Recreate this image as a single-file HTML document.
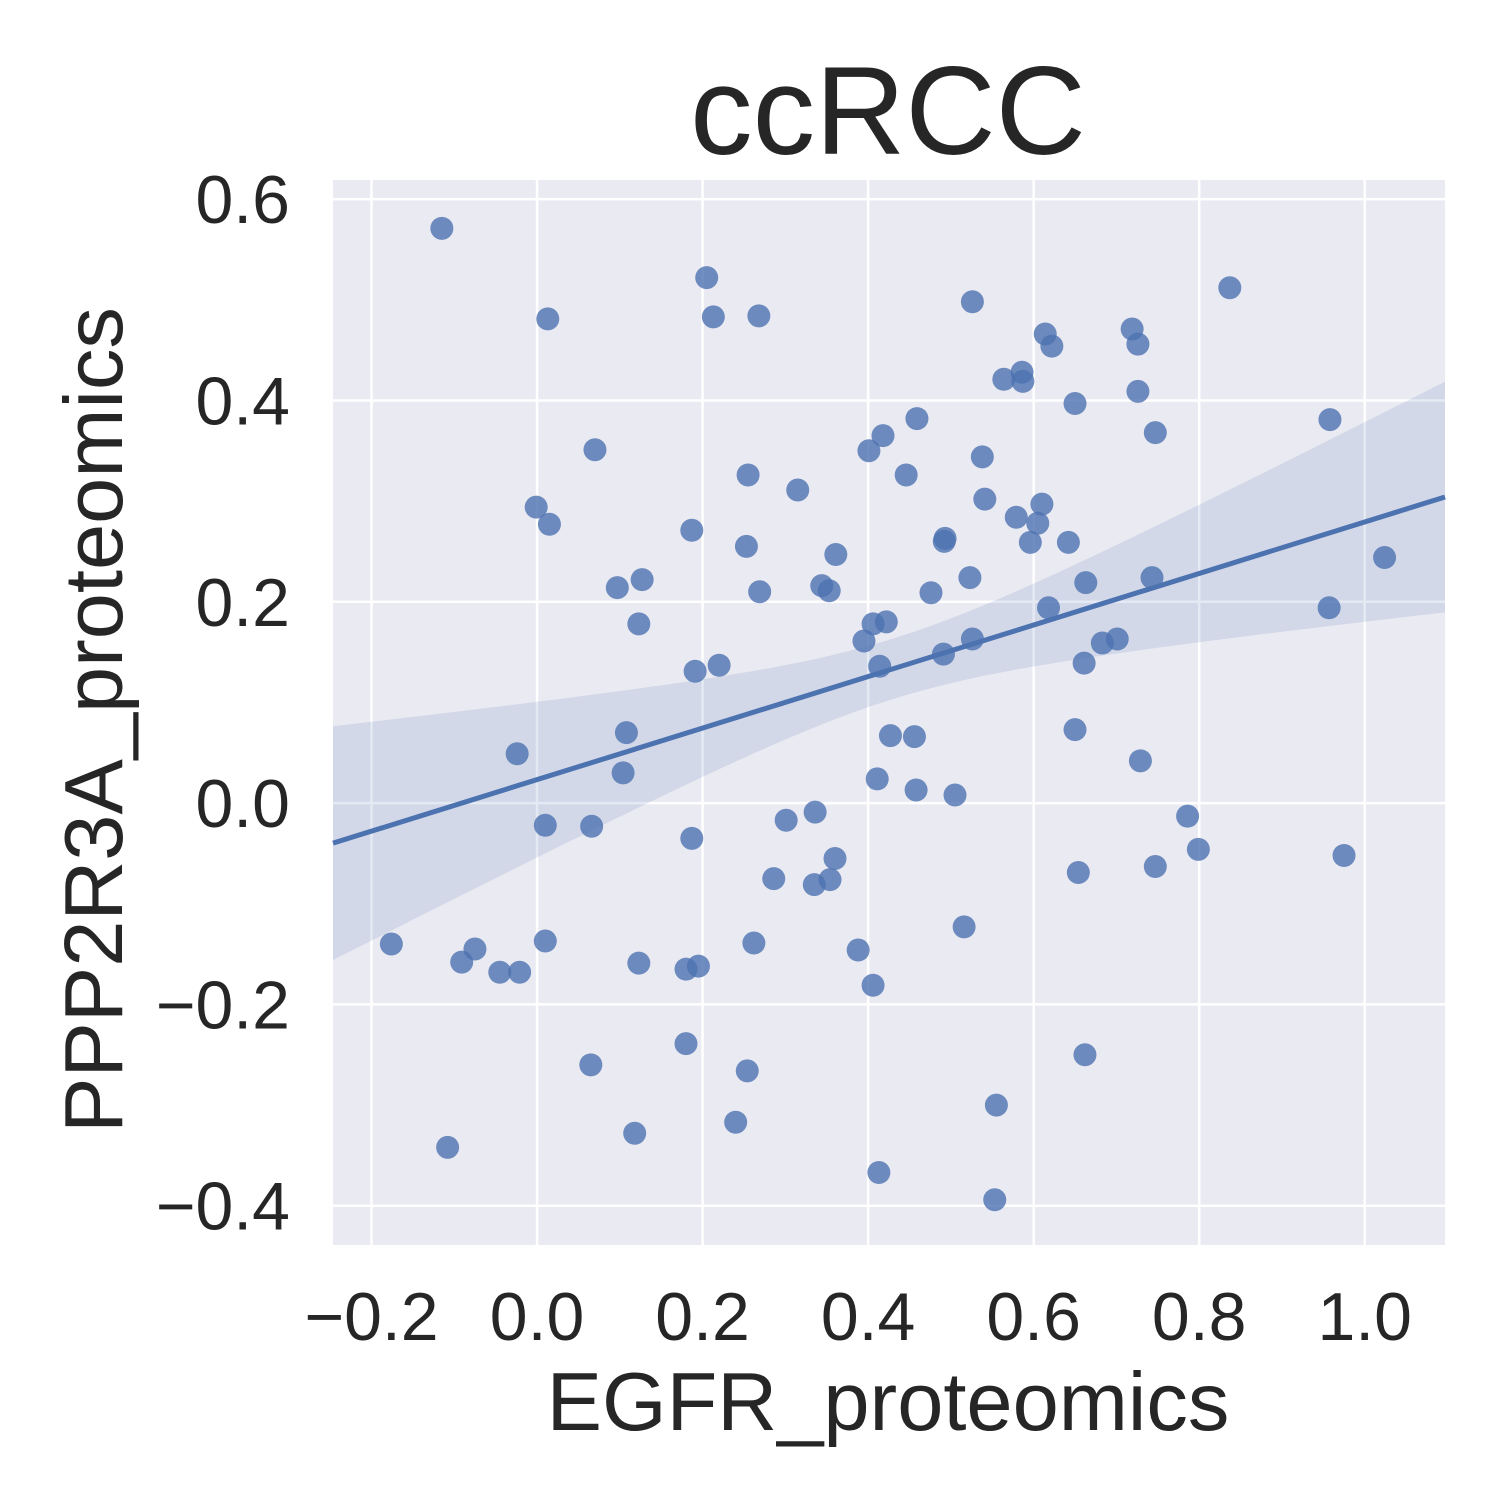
<!DOCTYPE html>
<html><head><meta charset="utf-8"><style>
html,body{margin:0;padding:0;background:#fff;}
svg text{font-family:"Liberation Sans","DejaVu Sans",sans-serif;fill:#262626;}
</style></head><body>
<svg id="chart" width="1500" height="1500" viewBox="0 0 1500 1500" xmlns="http://www.w3.org/2000/svg">
<text x="888" y="154" font-size="125" text-anchor="middle">ccRCC</text>
<text x="888" y="1430" font-size="83" text-anchor="middle">EGFR_proteomics</text>
<text x="0" y="0" font-size="83" text-anchor="middle" transform="translate(122,720) rotate(-90)">PPP2R3A_proteomics</text>
<g id="plot"></g>
</svg>
<script>
const xVals=[-0.115,0.205,0.013,0.213,0.268,0.837,0.526,0.614,0.719,0.622,0.726,0.564,0.586,0.587,0.650,0.726,0.459,0.418,0.401,0.747,0.958,0.070,0.255,0.446,0.538,0.315,0.541,-0.001,0.015,0.610,0.579,0.605,0.492,0.493,0.596,0.642,0.187,0.253,0.361,0.097,0.127,0.269,0.344,0.353,0.476,0.523,0.663,0.743,1.024,0.123,0.406,0.422,0.618,0.957,0.395,0.526,0.491,0.683,0.701,0.191,0.220,0.414,0.661,0.108,0.427,0.456,0.650,-0.024,0.104,0.411,0.729,0.458,0.505,0.010,0.066,0.187,0.301,0.336,0.786,0.799,0.975,0.360,0.286,0.335,0.354,0.654,0.747,-0.176,-0.075,-0.091,0.010,-0.045,-0.021,0.123,0.180,0.195,0.262,0.388,0.516,0.406,0.065,0.180,0.254,0.662,0.118,0.240,0.555,-0.108,0.413,0.553];
const yVals=[0.571,0.522,0.481,0.483,0.484,0.512,0.498,0.466,0.471,0.454,0.456,0.421,0.428,0.419,0.397,0.409,0.382,0.365,0.350,0.368,0.381,0.351,0.326,0.326,0.344,0.311,0.302,0.294,0.277,0.297,0.284,0.278,0.260,0.263,0.259,0.259,0.271,0.255,0.247,0.214,0.222,0.210,0.216,0.211,0.209,0.224,0.219,0.224,0.244,0.178,0.178,0.180,0.194,0.194,0.161,0.163,0.148,0.159,0.163,0.131,0.137,0.136,0.139,0.070,0.067,0.066,0.073,0.049,0.030,0.024,0.042,0.013,0.008,-0.022,-0.023,-0.035,-0.017,-0.009,-0.013,-0.046,-0.052,-0.055,-0.075,-0.081,-0.076,-0.069,-0.063,-0.140,-0.145,-0.158,-0.137,-0.168,-0.168,-0.159,-0.165,-0.162,-0.139,-0.146,-0.123,-0.181,-0.260,-0.239,-0.266,-0.250,-0.328,-0.317,-0.300,-0.342,-0.367,-0.394];
const xTicks=[-0.2,0.0,0.2,0.4,0.6,0.8,1.0];
const yTicks=[-0.4,-0.2,0.0,0.2,0.4,0.6];
const fit={slope:0.256,intercept:0.0233,center:0.43,ciA:0.0009,ciB:0.0275};
const xDomain=[-0.2465,1.097], yDomain=[-0.439,0.619];
const L=333,R=1445,T=180,B=1245;
const sx=v=>L+(v-xDomain[0])/(xDomain[1]-xDomain[0])*(R-L);
const sy=v=>B-(v-yDomain[0])/(yDomain[1]-yDomain[0])*(B-T);
const NS="http://www.w3.org/2000/svg";
const g=document.getElementById('plot');
function mk(tag,attrs){const e=document.createElementNS(NS,tag);for(const k in attrs)e.setAttribute(k,attrs[k]);g.appendChild(e);return e;}
const bg=mk('rect',{x:L,y:T,width:R-L,height:B-T,fill:'#eaeaf2'});


const fmt=v=>(v<0?'\u2212':'')+Math.abs(v).toFixed(1);
xTicks.forEach(t=>{
  const ln=mk('line',{x1:sx(t),x2:sx(t),y1:T,y2:B,stroke:'#fff','stroke-width':2.5});
  
  
  const tx=mk('text',{x:sx(t),y:1340,'font-size':68,'text-anchor':'middle'});tx.textContent=fmt(t);
  
  
});
yTicks.forEach(t=>{
  const ln=mk('line',{x1:L,x2:R,y1:sy(t),y2:sy(t),stroke:'#fff','stroke-width':2.5});
  
  
  const tx=mk('text',{x:290,y:sy(t)+24,'font-size':68,'text-anchor':'end'});tx.textContent=fmt(t);
  
  
});
const N=60;let up=[],lo=[];
for(let i=0;i<=N;i++){const x=xDomain[0]+(xDomain[1]-xDomain[0])*i/N;const y=fit.intercept+fit.slope*x;const h=Math.sqrt(fit.ciA+fit.ciB*(x-fit.center)**2);up.push(sx(x)+','+sy(y+h));lo.unshift(sx(x)+','+sy(y-h));}
const band=mk('polygon',{points:up.concat(lo).join(' '),fill:'#4c72b0','fill-opacity':0.15});


xVals.forEach((x,i)=>{
  const c=mk('circle',{cx:sx(x),cy:sy(yVals[i]),r:11.5,fill:'#4c72b0','fill-opacity':0.8});
  
  
});
const line=mk('line',{x1:sx(xDomain[0]),y1:sy(fit.intercept+fit.slope*xDomain[0]),x2:sx(xDomain[1]),y2:sy(fit.intercept+fit.slope*xDomain[1]),stroke:'#4c72b0','stroke-width':5});


</script>
</body></html>
